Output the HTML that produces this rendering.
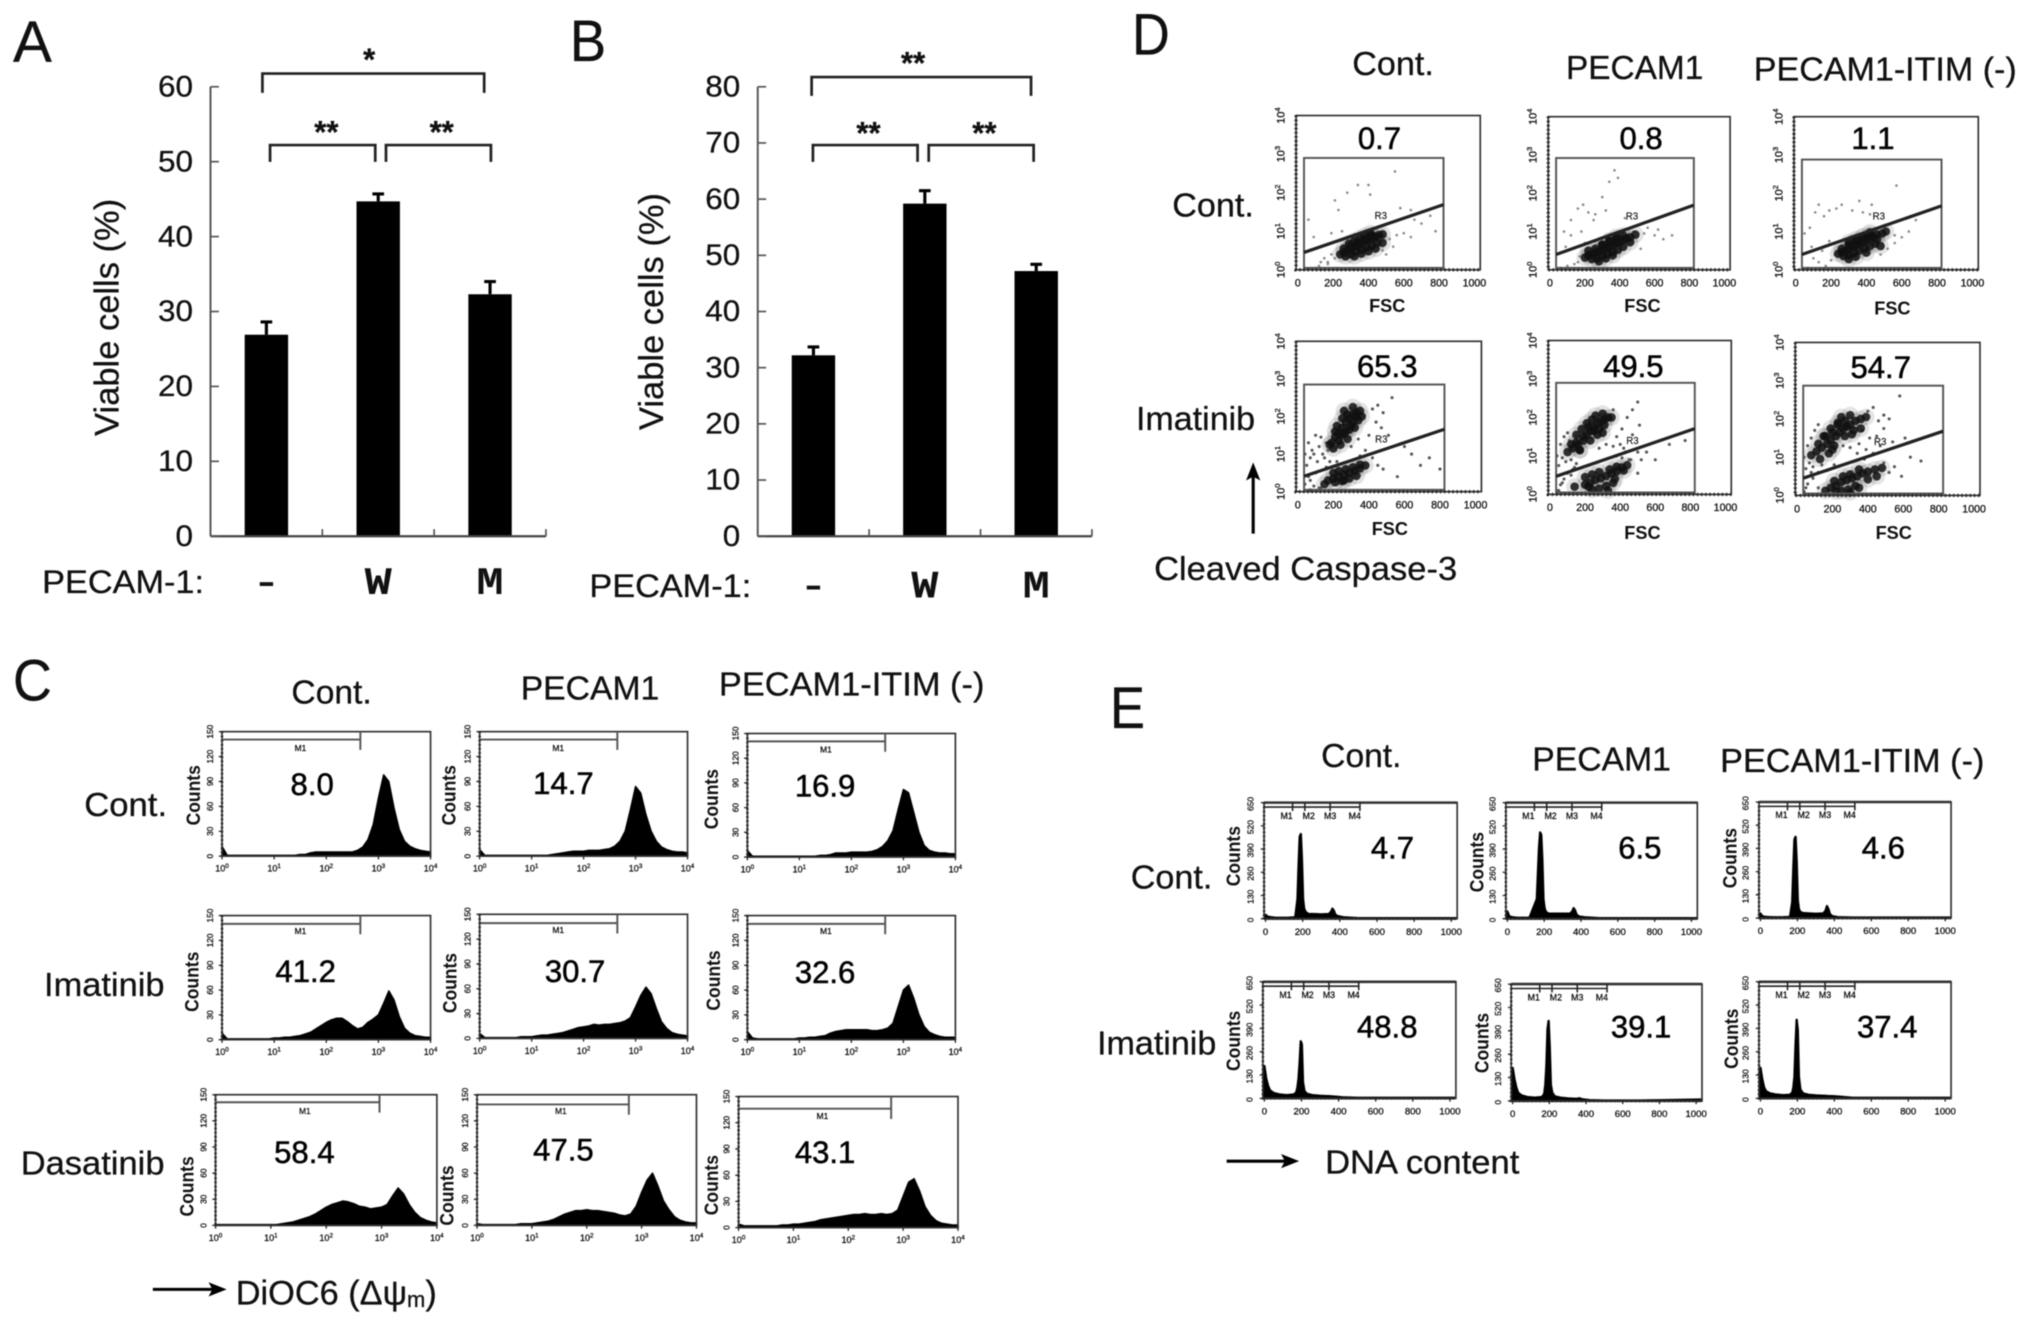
<!DOCTYPE html>
<html lang="en">
<head>
<meta charset="utf-8">
<title>PECAM-1 viability and flow cytometry figure</title>
<style>
html,body{margin:0;padding:0;background:#fff;}
#figure{display:block;width:2031px;height:1325px;background:#fff;filter:blur(0.45px);}
text{font-family:"Liberation Sans",Arial,sans-serif;fill:#111;stroke:#111;stroke-width:.22;}
.letter{font-size:45px;}
.head{font-size:26px;}
.num{font-size:24px;text-anchor:middle;fill:#000;stroke-width:.45;}
</style>
</head>
<body>
<svg id="figure" viewBox="0 0 1568 1023" preserveAspectRatio="none">
  <rect x="0" y="0" width="1568" height="1023" fill="#fff"/>
  <g id="chart-a"></g>
  <g id="chart-b"></g>
  <g id="chart-c"></g>
  <g id="chart-d"></g>
  <g id="chart-e"></g>

  <text class="letter" x="10" y="48" textLength="30" lengthAdjust="spacingAndGlyphs">A</text>
  <text class="letter" x="440" y="47" textLength="28" lengthAdjust="spacingAndGlyphs">B</text>
  <text class="letter" x="10" y="541" textLength="30" lengthAdjust="spacingAndGlyphs">C</text>
  <text class="letter" x="874" y="42" textLength="29" lengthAdjust="spacingAndGlyphs">D</text>
  <text class="letter" x="857" y="562" textLength="27" lengthAdjust="spacingAndGlyphs">E</text>

  <g>
    <text class="head" x="225" y="543" textLength="62" lengthAdjust="spacingAndGlyphs">Cont.</text>
    <text class="head" x="402" y="540" textLength="107" lengthAdjust="spacingAndGlyphs">PECAM1</text>
    <text class="head" x="555" y="537" textLength="205" lengthAdjust="spacingAndGlyphs">PECAM1-ITIM (-)</text>
    <text class="head" x="65" y="630" textLength="64" lengthAdjust="spacingAndGlyphs">Cont.</text>
    <text class="head" x="34" y="769" textLength="93" lengthAdjust="spacingAndGlyphs">Imatinib</text>
    <text class="head" x="16" y="907" textLength="111" lengthAdjust="spacingAndGlyphs">Dasatinib</text>
    <text class="num" x="241" y="614">8.0</text>
    <text class="num" x="435" y="613">14.7</text>
    <text class="num" x="637" y="615">16.9</text>
    <text class="num" x="236" y="758">41.2</text>
    <text class="num" x="444" y="758">30.7</text>
    <text class="num" x="637" y="759">32.6</text>
    <text class="num" x="235" y="898">58.4</text>
    <text class="num" x="435" y="896">47.5</text>
    <text class="num" x="637" y="898">43.1</text>
    <path d="M118 995.5H166" stroke="#000" stroke-width="2.4" fill="none"/>
    <path d="M175 995.5L161 990L164 995.5L161 1001Z" fill="#000"/>
    <text x="182" y="1007" font-size="26.5">DiOC6 (Δψ<tspan font-size="17" dy="2">m</tspan><tspan dy="-2">)</tspan></text>
  </g>

  <g>
    <text class="head" x="1044" y="58" textLength="63" lengthAdjust="spacingAndGlyphs">Cont.</text>
    <text class="head" x="1209" y="61" textLength="106" lengthAdjust="spacingAndGlyphs">PECAM1</text>
    <text class="head" x="1354" y="62" textLength="203" lengthAdjust="spacingAndGlyphs">PECAM1-ITIM (-)</text>
    <text class="head" x="905" y="167" textLength="63" lengthAdjust="spacingAndGlyphs">Cont.</text>
    <text class="head" x="877" y="332" textLength="92" lengthAdjust="spacingAndGlyphs">Imatinib</text>
    <text class="head" x="891" y="448" textLength="234" lengthAdjust="spacingAndGlyphs">Cleaved Caspase-3</text>
    <text class="num" x="1065" y="115">0.7</text>
    <text class="num" x="1267" y="115">0.8</text>
    <text class="num" x="1446" y="115">1.1</text>
    <text class="num" x="1071" y="291">65.3</text>
    <text class="num" x="1261" y="291">49.5</text>
    <text class="num" x="1452" y="292">54.7</text>
    <path d="M967.5 412V366" stroke="#000" stroke-width="2.4" fill="none"/>
    <path d="M967.5 357L962 371L967.5 368L973 371Z" fill="#000"/>
  </g>

  <g>
    <text class="head" x="1020" y="592" textLength="62" lengthAdjust="spacingAndGlyphs">Cont.</text>
    <text class="head" x="1183" y="595" textLength="107" lengthAdjust="spacingAndGlyphs">PECAM1</text>
    <text class="head" x="1328" y="596" textLength="204" lengthAdjust="spacingAndGlyphs">PECAM1-ITIM (-)</text>
    <text class="head" x="873" y="686" textLength="63" lengthAdjust="spacingAndGlyphs">Cont.</text>
    <text class="head" x="847" y="814" textLength="92" lengthAdjust="spacingAndGlyphs">Imatinib</text>
    <text class="num" x="1075" y="663">4.7</text>
    <text class="num" x="1266" y="663">6.5</text>
    <text class="num" x="1454" y="663">4.6</text>
    <text class="num" x="1071" y="801">48.8</text>
    <text class="num" x="1267" y="801">39.1</text>
    <text class="num" x="1457" y="801">37.4</text>
    <path d="M947 896.5H994" stroke="#000" stroke-width="2.4" fill="none"/>
    <path d="M1003 896.5L989 891L992 896.5L989 902Z" fill="#000"/>
    <text class="head" x="1023" y="906" textLength="150" lengthAdjust="spacingAndGlyphs">DNA content</text>
  </g>
</svg>

<script>
/* ---------- Panels A / B data ---------- */
const barCategories = ['–', 'W', 'M'];
const panelAValues = [26.9, 44.7, 32.3];
const panelAErrors = [1.7, 1.0, 1.7];
const panelATicks = [0, 10, 20, 30, 40, 50, 60];
const panelBValues = [32.2, 59.2, 47.2];
const panelBErrors = [1.5, 2.3, 1.2];
const panelBTicks = [0, 10, 20, 30, 40, 50, 60, 70, 80];

/* ---------- Panel C data (counts per 0.1 decade bin) ---------- */
const logBins = [0,.1,.2,.3,.4,.5,.6,.7,.8,.9,1,1.1,1.2,1.3,1.4,1.5,1.6,1.7,1.8,1.9,2,2.1,2.2,2.3,2.4,2.5,2.6,2.7,2.8,2.9,3,3.1,3.2,3.3,3.4,3.5,3.6,3.7,3.8,3.9,4];
const cCountTicks = [0, 30, 60, 90, 120, 150];
const cDecadeTicks = [0, 1, 2, 3, 4];
const histContCont = [12,1,1,1,1,1,1,1,1,1,1,1,1,1,1,2,2,4,5,5,5,5,5,5,5,5,7,11,20,38,70,98,90,58,32,18,12,9,7,6,5];
const histContPecam = [8,1,1,1,1,1,1,1,1,1,1,1,1,1,2,3,4,5,6,6,6,7,7,7,8,9,12,18,30,56,84,76,50,30,18,11,8,6,5,5,4];
const histContItim = [8,1,1,1,1,1,1,1,1,1,1,1,1,1,2,2,3,5,5,5,6,6,6,6,7,9,13,20,32,58,82,78,54,30,14,8,6,5,5,4,4];
const histImaCont = [8,1,1,1,1,1,1,1,1,1,2,2,3,3,4,5,7,9,13,17,21,24,26,26,22,17,13,15,21,25,30,44,59,48,28,14,8,5,4,3,3];
const histImaPecam = [6,1,1,1,1,1,1,1,2,2,2,3,4,4,5,6,7,9,11,13,14,15,17,16,17,17,18,19,21,25,38,52,62,54,36,20,12,7,5,4,3];
const histImaItim = [10,2,1,1,1,1,1,1,1,1,2,2,3,3,4,5,8,10,11,12,12,12,12,12,11,11,12,14,20,40,60,66,50,30,16,9,6,4,3,3,3];
const histDasCont = [1,1,1,1,1,1,1,1,1,1,1,1,2,3,4,6,8,10,13,17,21,24,26,28,27,25,22,21,19,20,21,24,34,43,36,24,15,9,6,4,3];
const histDasPecam = [2,1,1,1,1,1,1,1,2,2,2,3,4,5,7,10,13,15,17,17,18,17,17,16,15,14,12,11,13,22,38,52,60,45,28,18,10,6,4,3,3];
const histDasItim = [4,2,2,2,2,2,2,2,3,3,4,4,5,6,7,9,10,11,12,13,14,15,15,16,15,15,16,15,16,20,36,52,56,42,24,14,8,5,4,3,3];

/* ---------- Panel E data ---------- */
const dnaBins = [0,10,20,30,50,80,120,160,172,178,184,190,196,202,208,216,230,260,300,340,352,360,368,376,390,420,500,700,1024];
const eCountTicks = [0, 130, 260, 390, 520, 650];
const dnaTicks = [0, 200, 400, 600, 800, 1000];
const dnaContCont = [22,12,10,8,6,5,5,8,110,300,460,474,330,110,55,38,26,26,24,26,38,56,44,22,14,8,3,3,3];
const dnaContPecam = [40,14,10,8,6,5,5,110,400,483,470,330,110,60,42,32,28,28,28,28,40,59,46,22,12,8,3,3,3];
const dnaContItim = [25,10,8,6,5,4,4,6,90,280,440,455,320,100,50,34,28,26,24,26,40,67,50,22,10,5,3,3,3];
const dnaImaCont = [180,110,70,45,30,22,18,22,34,60,110,200,318,300,90,40,25,18,14,12,12,11,11,10,9,6,3,3,3];
const dnaImaPecam = [184,120,75,45,30,22,18,22,40,90,200,400,445,300,90,45,25,18,14,12,12,14,14,10,8,4,2,2,8];
const dnaImaItim = [170,105,60,40,28,22,18,20,32,60,120,300,438,380,120,50,28,20,16,14,14,13,13,12,12,10,3,3,3];

/* ---------- Panel D data (FSC, log10 signal) ---------- */
const fscTicks = [0, 200, 400, 600, 800, 1000];
const logTicks = [0, 1, 2, 3, 4];

const contContCoreFsc = [240,260,280,300,320,340,360,380,400,420,440,460,480,270,300,330,360,390,420,450,290,320,350,380,410,260,300,340,380,420,320,360,400,440,480];
const contContCoreSig = [.40,.45,.50,.55,.60,.65,.68,.75,.78,.82,.85,.90,.92,.35,.40,.48,.52,.58,.62,.70,.68,.75,.82,.88,.95,.55,.62,.72,.8,.9,.35,.42,.48,.55,.7];
const contContSparseFsc = [60,90,130,170,190,210,230,250,280,340,400,410,550,580,640,660,700,750,780,520,560,600,640,150,170,190,210,480,500,540,100,120,60];
const contContSparseSig = [1.3,.85,.2,.15,.95,1.8,1.55,1.0,2.0,2.2,2.2,1.95,2.55,1.6,1.55,1.3,1.2,1.4,1.0,.8,.9,.95,.85,.3,.2,.4,.3,.5,.4,.6,.05,.1,.03];

const contPecamCoreFsc = [200,220,240,260,280,300,320,340,360,380,400,420,440,460,490,240,270,300,330,360,390,420,300,340,380,220,260,300,340,380,420,460,280,320,360];
const contPecamCoreSig = [.32,.38,.40,.45,.48,.52,.55,.60,.65,.70,.72,.78,.82,.85,.92,.28,.30,.36,.42,.46,.52,.60,.66,.76,.86,.5,.55,.65,.75,.82,.9,.72,.22,.3,.38];
const contPecamSparseFsc = [80,120,160,190,220,260,300,340,370,390,120,180,250,200,160,480,540,560,600,620,650,700,520,140,170,100,60,90,320,430];
const contPecamSparseSig = [1.0,1.3,1.6,1.7,1.5,1.45,1.9,2.3,2.6,2.4,.9,1.0,1.3,.7,.2,1.0,.95,1.1,.9,1.05,.8,.9,.55,.15,.35,.1,.05,.6,1.55,1.35];

const contItimCoreFsc = [240,260,280,300,320,340,360,380,400,420,440,460,490,510,270,300,330,360,390,420,450,300,340,380,420,260,300,340,380,420,460,300,340,400,480];
const contItimCoreSig = [.42,.46,.48,.55,.60,.65,.68,.72,.78,.82,.86,.92,.95,1.0,.36,.38,.44,.50,.55,.62,.68,.72,.80,.88,.98,.55,.65,.75,.85,.92,.8,.28,.34,.45,.62];
const contItimSparseFsc = [50,80,110,130,160,190,230,260,320,360,380,430,570,560,600,640,680,100,130,170,200,220,480,520,560,70,150,190,90,420];
const contItimSparseSig = [.95,1.1,1.5,1.7,1.4,1.55,1.6,1.7,1.55,1.8,1.5,1.7,2.2,.9,.85,1.0,1.3,.3,.2,.1,.25,.4,.4,.55,.7,.05,.5,.75,.6,1.45];

const imaContCoreFsc = [190,210,230,250,270,290,310,330,350,220,250,280,310,340,200,230,260,290,170,200,230,260,290,320,350,380,210,250,290,330,150,240,270,300,330,210,260,310,180,240,280,320,360,230,270,310,350,200,260];
const imaContCoreSig = [1.30,1.45,1.55,1.70,1.85,1.95,2.05,2.10,2.15,1.75,1.95,2.05,1.85,1.90,1.15,1.35,1.55,1.65,.30,.35,.40,.45,.50,.55,.62,.70,.25,.28,.35,.42,.20,1.5,1.6,1.75,2.0,1.6,2.15,2.25,1.25,1.25,1.4,1.7,2.0,.55,.6,.65,.72,.5,.3];
const imaContSparseFsc = [40,60,80,100,120,140,160,50,70,90,110,130,150,170,40,70,100,130,160,420,450,480,440,470,510,530,600,640,420,450,480,350,380,180,220,400,120,70,60,90,690,740,800,300,340,560];
const imaContSparseSig = [1.0,1.3,1.1,1.5,1.2,1.0,1.3,.7,.9,1.0,.8,1.45,.9,1.1,.2,.3,.5,.1,.65,2.2,2.3,2.1,1.85,1.7,1.5,2.5,1.2,1.0,.9,.7,.6,.95,1.1,.8,.8,1.5,.1,.05,.4,.15,.7,.9,.6,1.2,1.4,.4];

const imaPecamCoreFsc = [100,130,160,190,210,230,250,270,290,310,330,350,150,180,210,240,270,300,170,140,200,230,260,290,320,350,380,410,440,240,280,320,360,150,190,220,250,280,310,120,170,230,260,300,340,380,420,200,240,280,330,370,220];
const imaPecamCoreSig = [1.10,1.20,1.30,1.40,1.55,1.65,1.75,1.85,1.90,1.95,2.0,2.0,1.55,1.70,1.85,1.95,1.55,1.60,1.15,.20,.25,.30,.38,.42,.48,.55,.60,.70,.76,.12,.15,.22,.30,1.35,1.5,1.75,1.65,1.7,1.8,1.3,1.15,1.4,2.05,2.1,.65,.72,.62,.45,.52,.58,.1,.4,.2];
const imaPecamSparseFsc = [40,60,80,100,120,50,70,90,110,130,150,380,410,440,470,500,360,400,430,470,510,380,420,460,500,40,60,80,100,120,140,520,550,600,680,770,280,320,360,410,450,500,50,70];
const imaPecamSparseSig = [1.0,1.3,1.5,1.6,.9,.75,.95,.85,1.4,.65,.8,1.5,1.7,2.0,2.2,2.4,2.2,1.3,1.1,1.55,1.8,1.0,1.2,.9,1.1,.1,.25,.4,.55,.5,.7,.9,1.1,.9,1.3,1.4,1.2,1.3,1.25,.95,.9,.55,.1,.3];

const imaItimCoreFsc = [80,110,140,170,190,220,240,260,280,300,330,360,390,150,190,230,270,310,130,200,160,190,220,250,280,310,340,370,400,440,480,250,290,330,120,160,200,230,270,320,360,300,250,210,180,210,260,300,350,400,450,300,350,220];
const imaItimCoreSig = [1.05,1.15,1.25,1.35,1.45,1.55,1.65,1.75,1.80,1.85,1.95,2.0,2.05,1.55,1.75,1.90,1.55,1.60,.95,1.20,.12,.20,.25,.35,.40,.45,.50,.58,.62,.68,.72,.12,.15,.25,1.35,1.55,1.65,1.85,1.95,1.7,1.75,2.1,2.05,1.3,1.1,.38,.5,.55,.68,.42,.5,.08,.2,.1];
const imaItimSparseFsc = [40,60,80,100,120,50,70,90,120,140,400,430,460,490,520,370,410,450,490,350,390,430,470,40,60,90,120,490,520,550,590,640,700,300,260,340,380,50,80,170,210,610,540,580];
const imaItimSparseSig = [1.0,1.3,1.5,1.7,1.85,.7,.85,.75,.6,.8,2.2,2.3,1.95,2.1,2.0,1.7,1.5,1.55,1.75,1.35,1.2,1.1,1.3,.1,.3,.45,.2,.85,.6,.75,.5,1.0,.9,1.25,1.3,1.1,.95,.2,.6,.65,.8,1.5,1.4,2.6];

/* ---------- Layout (pixels in the 1568 x 1023 view) ---------- */
const chartALayout = {left:162.5, right:421.5, base:414, top:67, max:60, catY:458.5, barW:33.5};
const chartBLayout = {left:585, right:843, base:414, top:67, max:80, catY:461.5, barW:33.5};

const cLayouts = [
  {l:171.4,r:332.4,t:564.9,b:661,  g:278.2,gy:571,  lx:232,  ly:580, cx:149,  cy:614},
  {l:370.3,r:530.8,t:564.9,b:661,  g:476.6,gy:571,  lx:431,  ly:580, cx:346,  cy:614},
  {l:577,  r:737.6,t:566.3,b:661.7,g:683.4,gy:572.4,lx:637.7,ly:581, cx:549,  cy:617},
  {l:171.4,r:332.4,t:706.9,b:802.7,g:278.2,gy:713.3,lx:232,  ly:721, cx:147.7,cy:758},
  {l:370.3,r:530.8,t:705.9,b:801.7,g:476.6,gy:712.7,lx:431,  ly:720.5,cx:347, cy:759},
  {l:577,  r:737.6,t:706.9,b:802.7,g:683.4,gy:713.3,lx:637.7,ly:721, cx:550.5,cy:757},
  {l:166.4,r:337.3,t:845.2,b:946.1,g:293,  gy:851,  lx:235.4,ly:860, cx:143.8,cy:916},
  {l:368.3,r:537.7,t:845.2,b:946.1,g:485.5,gy:852.7,lx:433,  ly:860, cx:344.7,cy:923},
  {l:570.2,r:739.6,t:846.6,b:947.8,g:688,  gy:856,  lx:635,  ly:864, cx:549,  cy:915}
];
const cSeries = [histContCont, histContPecam, histContItim, histImaCont, histImaPecam, histImaItim, histDasCont, histDasPecam, histDasItim];

const eLayouts = [
  {l:975.9, r:1125,  t:619.7,b:709.3,cx:951.8, cy:661},
  {l:1162.6,r:1310.4,t:619.7,b:709.3,cx:1140,  cy:665.6},
  {l:1358,  r:1506.3,t:619.2,b:708.8,cx:1335,  cy:662.5},
  {l:975,   r:1124,  t:758,  b:848,  cx:952,   cy:803.6},
  {l:1166.7,r:1314,  t:759.8,b:850,  cx:1143.6,cy:805.3},
  {l:1358,  r:1506.3,t:758,  b:848,  cx:1336.3,cy:802}
];
const eSeries = [dnaContCont, dnaContPecam, dnaContItim, dnaImaCont, dnaImaPecam, dnaImaItim];
const eGateOffsets = [22, 31.5, 51, 74];
const eGateLabelShift = [-4.6, 3, 0, -4];
const eGateNames = ['M1', 'M2', 'M3', 'M4'];

const dLayouts = [
  {l:1000.6,r:1142.8,t:89.2, b:208.3,gateTop:2.9, a:.45,z:1.69,fx:1071,fy:241},
  {l:1195.3,r:1335.7,t:90.1, b:208.3,gateTop:2.92,a:.40,z:1.69,fx:1268,fy:241},
  {l:1385,  r:1527.3,t:90.1, b:208.3,gateTop:2.88,a:.40,z:1.67,fx:1461,fy:243},
  {l:1000.6,r:1143.7,t:263.5,b:379.6,gateTop:2.85,a:.41,z:1.66,fx:1073,fy:413},
  {l:1195.3,r:1336.6,t:262.9,b:381.7,gateTop:2.9, a:.47,z:1.71,fx:1268,fy:416},
  {l:1386,  r:1528.6,t:264.4,b:382.5,gateTop:2.87,a:.45,z:1.68,fx:1462,fy:416}
];
const dCoreFsc = [contContCoreFsc, contPecamCoreFsc, contItimCoreFsc, imaContCoreFsc, imaPecamCoreFsc, imaItimCoreFsc];
const dCoreSig = [contContCoreSig, contPecamCoreSig, contItimCoreSig, imaContCoreSig, imaPecamCoreSig, imaItimCoreSig];
const dSparseFsc = [contContSparseFsc, contPecamSparseFsc, contItimSparseFsc, imaContSparseFsc, imaPecamSparseFsc, imaItimSparseFsc];
const dSparseSig = [contContSparseSig, contPecamSparseSig, contItimSparseSig, imaContSparseSig, imaPecamSparseSig, imaItimSparseSig];

/* ---------- Helpers ---------- */
const SVG_NS = document.getElementById('figure').namespaceURI;
function mk(tag, parent, attrs, content) {
  const e = document.createElementNS(SVG_NS, tag);
  for (const k in attrs) e.setAttribute(k, attrs[k]);
  if (content !== undefined) e.textContent = content;
  parent.appendChild(e);
  return e;
}
function linear(d0, d1, r0, r1) {
  return function (v) { return r0 + (v - d0) / (d1 - d0) * (r1 - r0); };
}
function powerLabel(parent, x, y, exp, size, transform, fill) {
  const attrs = {x: x, y: y, 'font-size': size, 'text-anchor': 'middle', fill: fill};
  if (transform) attrs.transform = transform;
  const t = mk('text', parent, attrs, '10');
  const s = mk('tspan', t, {'font-size': size * .7, dy: -size * .4}, String(exp));
  
  
  return t;
}

/* ---------- Bar charts ---------- */
function drawBars(root, L, ticks, values, errors) {
  const y = linear(0, L.max, L.base, L.top);
  const band = (L.right - L.left) / values.length;
  const cx = function (i) { return L.left + band * (i + .5); };

  values.forEach(function (v, i) {
    const bar = mk('rect', root, {x: cx(i) - L.barW / 2, y: y(v), width: L.barW, height: L.base - y(v), fill: '#000'});
    
    

    const err = mk('path', root, {d: 'M' + cx(i) + ' ' + y(v) + 'V' + y(v + errors[i]) + 'M' + (cx(i) - 4.5) + ' ' + y(v + errors[i]) + 'H' + (cx(i) + 4.5), stroke: '#000', 'stroke-width': 2.4, fill: 'none'});
    
    

    const dark = i === 0;
    const cat = mk('text', root, {x: cx(i), y: L.catY, 'text-anchor': 'middle', 'font-size': 30, 'font-weight': 'bold', style: 'font-family:"Liberation Mono",monospace;stroke-width:0', textLength: dark ? 14 : 21, lengthAdjust: 'spacingAndGlyphs'}, barCategories[i]);
    
    
  });

  const yAxis = mk('path', root, {d: 'M' + L.left + ' ' + L.top + 'V' + L.base, stroke: '#555', 'stroke-width': 1.5, fill: 'none'});
  
  

  const xAxis = mk('path', root, {d: 'M' + L.left + ' ' + L.base + 'H' + L.right, stroke: '#444', 'stroke-width': 1.7, fill: 'none'});
  
  

  let xt = '';
  for (let i = 1; i <= values.length; i++) xt += 'M' + (L.left + band * i) + ' ' + L.base + 'v-5.5';
  const xTicks = mk('path', root, {d: xt, stroke: '#555', 'stroke-width': 1.3, fill: 'none'});
  
  

  ticks.forEach(function (t) {
    const mark = mk('path', root, {d: 'M' + L.left + ' ' + y(t) + 'h6.5', stroke: '#555', 'stroke-width': 1.3, fill: 'none'});
    
    

    const wide = String(t).length > 1;
    const lab = mk('text', root, {x: L.left - 13.5, y: y(t) + 7.5, 'text-anchor': 'end', 'font-size': 23, textLength: wide ? 27 : 13.5, lengthAdjust: 'spacingAndGlyphs'}, String(t));
    
    
  });
}
function bracket(root, name, x1, x2, y, d1, d2) {
  const b = mk('path', root, {d: 'M' + x1 + ' ' + d1 + 'V' + y + 'H' + x2 + 'V' + d2, stroke: '#222', 'stroke-width': 2.1, fill: 'none'});
  
  
}
function stars(root, cx, cy, s) {
  const t = mk('text', root, {x: cx, y: cy + 13, 'text-anchor': 'middle', 'font-size': 24, 'font-weight': 'bold', fill: '#000'}, s);
  
  
}
function staticBarText(root, title, tx, tcy, pl, plen, py) {
  const t = mk('text', root, {x: tx, y: tcy, 'text-anchor': 'middle', 'font-size': 26.5, transform: 'rotate(-90 ' + tx + ' ' + tcy + ')', textLength: 183, lengthAdjust: 'spacingAndGlyphs'}, title);
  
  

  const p = mk('text', root, {x: pl, y: py, 'font-size': 25, textLength: plen, lengthAdjust: 'spacingAndGlyphs'}, 'PECAM-1:');
  
  
}

const rootA = document.getElementById('chart-a');
drawBars(rootA, chartALayout, panelATicks, panelAValues, panelAErrors);
staticBarText(rootA, 'Viable cells (%)', 91.5, 245, 32.5, 125, 458);
bracket(rootA, 'bracket-top', 202.6, 373.8, 56.8, 71.7, 71.7);
bracket(rootA, 'bracket-left', 208.5, 289.7, 112, 125, 125);
bracket(rootA, 'bracket-right', 298, 379, 112, 125, 125);
stars(rootA, 285, 41, '*');
stars(rootA, 252, 97, '**');
stars(rootA, 341, 97, '**');

const rootB = document.getElementById('chart-b');
drawBars(rootB, chartBLayout, panelBTicks, panelBValues, panelBErrors);
staticBarText(rootB, 'Viable cells (%)', 512, 240.5, 455, 125, 461);
bracket(rootB, 'bracket-top', 626.6, 796, 59.5, 74, 74);
bracket(rootB, 'bracket-left', 627.6, 708.4, 112, 125, 125);
bracket(rootB, 'bracket-right', 717, 798, 112, 125, 125);
stars(rootB, 705, 43.6, '**');
stars(rootB, 670.5, 97.7, '**');
stars(rootB, 760, 97.7, '**');

/* ---------- Shared panel pieces ---------- */
function countsLabel(g, f) {
  const x = f.cx + 5.5;
  const t = mk('text', g, {x: x, y: f.cy, 'text-anchor': 'middle', 'font-size': 15, 'font-weight': 'bold', transform: 'rotate(-90 ' + x + ' ' + f.cy + ')', textLength: 46.5, lengthAdjust: 'spacingAndGlyphs', style: 'stroke-width:0'}, 'Counts');
  
  
}
function frameRect(g, f) {
  const r = mk('rect', g, {x: f.l, y: f.t, width: f.r - f.l, height: f.b - f.t, fill: 'none', stroke: '#333', 'stroke-width': 1.3});
  
  
}
function dottedEdges(g, f, width) {
  const edge = mk('path', g, {d: 'M' + f.l + ' ' + f.t + 'V' + f.b + 'H' + f.r, stroke: '#222', 'stroke-width': width, 'stroke-dasharray': '1 2.2', fill: 'none'});
  
  
}
function histogramArea(g, xs, counts, sx, sy, base, sw) {
  let d = 'M' + sx(xs[0]) + ' ' + base;
  counts.forEach(function (c, i) { d += 'L' + sx(xs[i]) + ' ' + sy(c); });
  d += 'L' + sx(xs[xs.length - 1]) + ' ' + base + 'Z';
  const a = mk('path', g, {d: d, fill: '#000', stroke: '#000', 'stroke-width': sw, 'stroke-linejoin': 'round'});
  
  
}
function tickMarks(g, name, d) {
  const p = mk('path', g, {d: d, stroke: '#222', 'stroke-width': 1, fill: 'none'});
  
  
}
function verticalTickLabel(g, x, y, s, size) {
  const t = mk('text', g, {x: x, y: y, 'text-anchor': 'middle', 'font-size': size, fill: '#444', transform: 'rotate(-90 ' + x + ' ' + y + ')'}, s);
  
  
}

/* ---------- Panel C ---------- */
const rootC = document.getElementById('chart-c');
cLayouts.forEach(function (f, i) {
  const g = mk('g', rootC, {});
  
  
  const sx = linear(0, 4, f.l, f.r);
  const sy = linear(0, 150, f.b, f.t);
  histogramArea(g, logBins, cSeries[i], sx, sy, f.b, 1.1);
  frameRect(g, f);

  const gate = mk('path', g, {d: 'M' + f.l + ' ' + f.gy + 'H' + f.g + 'M' + f.g + ' ' + f.t + 'V' + (f.gy + 8), stroke: '#555', 'stroke-width': 1.5, fill: 'none'});
  
  

  const gl = mk('text', g, {x: f.lx, y: f.ly, 'text-anchor': 'middle', 'font-size': 6.5, fill: '#222'}, 'M1');
  
  

  countsLabel(g, f);

  let yt = '';
  cCountTicks.forEach(function (c) {
    yt += 'M' + (f.l - 2.5) + ' ' + sy(c) + 'h2.5';
    verticalTickLabel(g, f.l - 7, sy(c), String(c), 6.4);
  });
  tickMarks(g, 'y-axis-ticks', yt);

  let xt = '';
  cDecadeTicks.forEach(function (k) {
    xt += 'M' + sx(k) + ' ' + f.b + 'v2.5';
    powerLabel(g, sx(k), f.b + 12, k, 7, null, '#444');
  });
  tickMarks(g, 'x-axis-ticks', xt);
  const leftEdge = {l: f.l, t: f.t, b: f.b, r: f.l};
  dottedEdges(g, leftEdge, 2);
});

/* ---------- Panel E ---------- */
const rootE = document.getElementById('chart-e');
eLayouts.forEach(function (f, i) {
  const g = mk('g', rootE, {});
  
  
  const sx = linear(-8, 1032, f.l, f.r);
  const sy = linear(0, 650, f.b, f.t);
  histogramArea(g, dnaBins, eSeries[i], sx, sy, f.b, 1.8);
  frameRect(g, f);

  const topEdge = mk('path', g, {d: 'M' + f.l + ' ' + f.t + 'H' + f.r, stroke: '#333', 'stroke-width': 2, fill: 'none'});
  
  

  let gd = 'M' + f.l + ' ' + (f.t + 3.4) + 'H' + (f.l + eGateOffsets[3]);
  eGateOffsets.forEach(function (o, k) {
    gd += 'M' + (f.l + o) + ' ' + f.t + 'v6.5';
    const lab = mk('text', g, {x: f.l + o + eGateLabelShift[k], y: f.t + 12.5, 'text-anchor': 'middle', 'font-size': 6.8, fill: '#222'}, eGateNames[k]);
    
    
  });
  const gate = mk('path', g, {d: gd, stroke: '#222', 'stroke-width': 1.2, fill: 'none'});
  
  

  countsLabel(g, f);

  let yt = '';
  eCountTicks.forEach(function (c) {
    yt += 'M' + (f.l - 2.5) + ' ' + sy(c) + 'h2.5';
    verticalTickLabel(g, f.l - 8, sy(c) + 1, String(c), 6.6);
  });
  tickMarks(g, 'y-axis-ticks', yt);

  let xt = '';
  dnaTicks.forEach(function (k) {
    xt += 'M' + sx(k) + ' ' + f.b + 'v2.5';
    const lab = mk('text', g, {x: sx(k), y: f.b + 12.5, 'text-anchor': 'middle', 'font-size': 7.4, fill: '#333'}, String(k));
    
    
  });
  tickMarks(g, 'x-axis-ticks', xt);
  dottedEdges(g, f, 2);
});

/* ---------- Panel D ---------- */
const rootD = document.getElementById('chart-d');
dLayouts.forEach(function (f, i) {
  const g = mk('g', rootD, {});
  
  
  const sx = linear(-10, 1033, f.l, f.r);
  const sy = linear(0, 4, f.b, f.t);
  const heavy = i >= 3;

  dCoreFsc[i].forEach(function (v, k) {
    const halo = mk('circle', g, {cx: sx(v), cy: sy(dCoreSig[i][k]), r: 6.5, fill: '#555', opacity: .16});
    
    
  });
  dSparseFsc[i].forEach(function (v, k) {
    const dot = mk('circle', g, {cx: sx(v), cy: sy(dSparseSig[i][k]), r: heavy ? 1.2 : 1, fill: heavy ? '#555' : '#888'});
    
    
  });
  dCoreFsc[i].forEach(function (v, k) {
    const dot = mk('circle', g, {cx: sx(v), cy: sy(dCoreSig[i][k]), r: 3.3, fill: '#111', opacity: .85});
    
    
  });

  frameRect(g, f);

  const gate = mk('rect', g, {x: sx(35), y: sy(f.gateTop), width: sx(825) - sx(35), height: sy(.05) - sy(f.gateTop), fill: 'none', stroke: '#555', 'stroke-width': 1.5});
  
  

  const line = mk('line', g, {x1: sx(35), y1: sy(f.a), x2: sx(825), y2: sy(f.z), stroke: '#222', 'stroke-width': 2.5});
  
  

  const r3 = mk('text', g, {x: sx(470), y: sy(1.4) + 2.5, 'text-anchor': 'middle', 'font-size': 7.5, fill: '#777', style: 'stroke-width:.1'}, 'R3');
  
  

  dottedEdges(g, f, 2.6);

  const fsc = mk('text', g, {x: f.fx, y: f.fy, 'text-anchor': 'middle', 'font-size': 14, 'font-weight': 'bold', fill: '#111', style: 'stroke-width:0'}, 'FSC');
  
  

  fscTicks.forEach(function (t) {
    const lab = mk('text', g, {x: sx(t), y: f.b + 13, 'text-anchor': 'middle', 'font-size': 8.2, fill: '#333'}, String(t));
    
    
  });
  logTicks.forEach(function (k) {
    const x = f.l - 9;
    const y = sy(k);
    powerLabel(g, x, y, k, 8.4, 'rotate(-90 ' + x + ' ' + y + ')', '#333');
  });
});
</script>
</body>
</html>
